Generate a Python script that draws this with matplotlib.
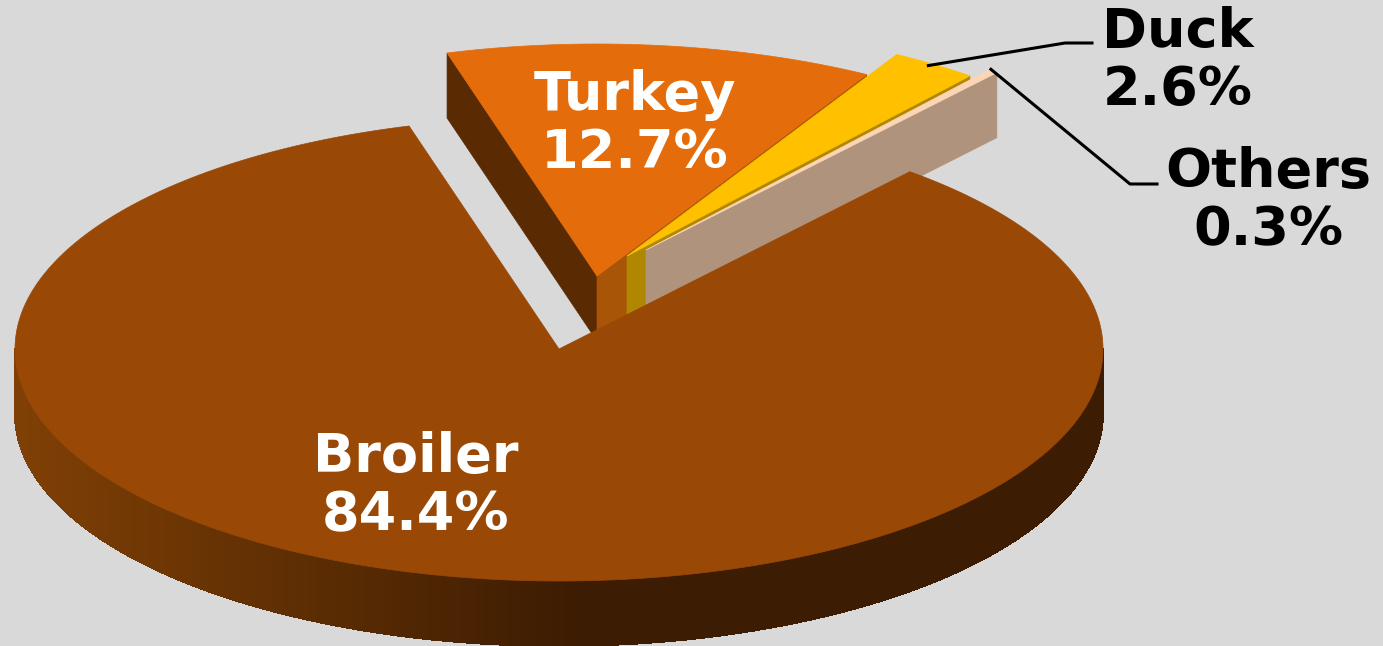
import numpy as np
import matplotlib
matplotlib.use('Agg')
import matplotlib.pyplot as plt
from matplotlib.colors import to_rgb
from matplotlib.patches import Polygon

# Data
names = ['Turkey', 'Duck', 'Others', 'Broiler']
shares = [12.7, 2.6, 0.3, 84.4]

# Styling
top_colors = ['#E46C0A', '#FFC000', '#FBD5B5', '#9A4805']
cut_colors = ['#A95507', '#B08700', '#B0937C', '#5A2A03']
label_colors = ['white', 'black', 'black', 'white']
label_xy = [(635, 124), (1178, 61), (1268, 201), (416, 486)]
explode = [(38, -73), (68, -93), (87, -99), (0, 0)]
first_angle = 344.0
cx, cy = 559, 349
rx, ry = 544, 232
depth = 65
bg = '#D9D9D9'


def rim(angle, off=(0, 0)):
    # angle runs clockwise from the top of the ellipse
    a = np.radians(angle)
    return cx + off[0] + rx * np.sin(a), cy + off[1] - ry * np.cos(a)


def wall_color(x):
    # side of the pie gets darker towards the right
    left, right = np.array(to_rgb('#804005')), np.array(to_rgb('#3C1C02'))
    t = np.clip((x - 15) / 560, 0, 1)
    return tuple(left + (right - left) * t)


fig = plt.figure(figsize=(13.83, 6.46), dpi=100, facecolor=bg)
ax = fig.add_axes([0, 0, 1, 1])
ax.set_xlim(0, 1383)
ax.set_ylim(646, 0)
ax.axis('off')

edges = first_angle + np.cumsum([0] + shares) * 3.6

for i in range(len(names)):
    a0, a1 = edges[i], edges[i + 1]
    off = explode[i]
    apex = (cx + off[0], cy + off[1])
    angles = np.linspace(a0, a1, max(int(a1 - a0) * 2, 4))
    pts = [rim(a, off) for a in angles]

    if names[i] == 'Turkey':
        # left cut face, seen because the slice is pulled out
        p = rim(a0, off)
        ax.add_patch(Polygon([apex, p, (p[0], p[1] + depth), (apex[0], apex[1] + depth)],
                             fc='#5A2A03', ec='#5A2A03', lw=0.5, zorder=i * 3 + 1))
    if names[i] != 'Broiler':
        # right cut face
        p = rim(a1, off)
        ax.add_patch(Polygon([apex, p, (p[0], p[1] + depth), (apex[0], apex[1] + depth)],
                             fc=cut_colors[i], ec=cut_colors[i], lw=0.5, zorder=i * 3 + 1))
    else:
        # outer wall of the big slice, cut in strips for the shading
        steps = np.arange(90, 270.5, 0.5)
        for s0, s1 in zip(steps[:-1], steps[1:]):
            x0, y0 = rim(s0)
            x1, y1 = rim(s1)
            c = wall_color((x0 + x1) / 2)
            ax.add_patch(Polygon([(x0, y0), (x1, y1), (x1, y1 + depth), (x0, y0 + depth)],
                                 fc=c, ec=c, lw=0.6, antialiased=False, zorder=i * 3 + 1))

    ax.add_patch(Polygon([apex] + pts, closed=True, fc=top_colors[i], ec=top_colors[i],
                         lw=0.5, zorder=i * 3 + 2))

for i in range(len(names)):
    ax.text(label_xy[i][0], label_xy[i][1], f'{names[i]}\n{shares[i]}%',
            color=label_colors[i], fontsize=39, fontweight='bold',
            family='DejaVu Sans', ha='center', va='center', multialignment='center',
            linespacing=1.17, zorder=20)

# Leader lines for the two small slices
duck_tip = rim((edges[1] + edges[2]) / 2, explode[1])
others_tip = rim((edges[2] + edges[3]) / 2, explode[2])
ax.plot([duck_tip[0] - 6, 1065, 1092], [duck_tip[1] + 1, 43, 43], color='black', lw=2.2, zorder=21)
ax.plot([others_tip[0] - 2, 1130, 1157], [others_tip[1] - 2, 184, 184], color='black', lw=2.2, zorder=21)

fig.savefig('out.png', dpi=100, facecolor=bg)
